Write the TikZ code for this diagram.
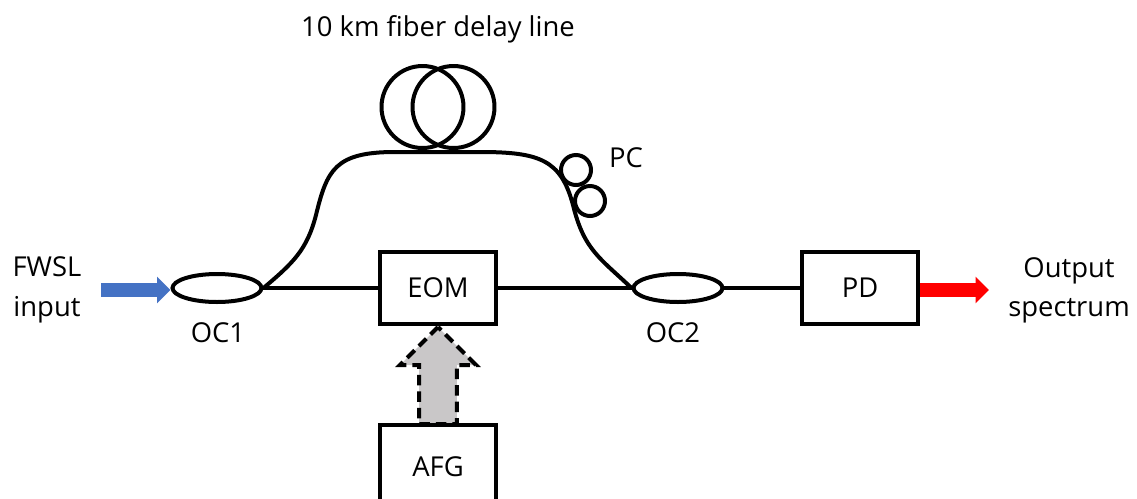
\documentclass[tikz,border=0pt]{standalone}
\usepackage{fontspec}
\setmainfont{Open Sans}
\usetikzlibrary{shapes.arrows,shapes.geometric,arrows.meta}
\definecolor{inblue}{HTML}{4472C4}
\definecolor{gategray}{HTML}{C9C7C8}
\tikzset{
  blockbox/.style={draw,fill=white,line width=0.08cm,minimum width=2.34cm,minimum height=1.44cm,inner sep=0pt,font=\fontsize{15.6}{18}\selectfont},
  coupler/.style={draw,ellipse,line width=0.08cm,minimum width=1.78cm,minimum height=0.56cm,inner sep=0pt},
  loopring/.style={draw,circle,line width=0.08cm,inner sep=0pt},
  fiber/.style={line width=0.08cm},
  lightarrow/.style={line width=0.28cm,-{Triangle[length=0.27cm,width=0.52cm]},shorten >=0pt},
  lbl/.style={font=\fontsize{15.6}{18}\selectfont,inner sep=0pt,align=center}
}
\begin{document}
\begin{tikzpicture}[x=0.02cm,y=-0.02cm]
  \path[use as bounding box,clip] (0,0) rectangle (1137,498);
  \node[lbl] (title) at (438,29) {10 km fiber delay line};
  \node[coupler] (oc1) at (217,288) {};
  \node[coupler] (oc2) at (678,288) {};
  \node[loopring,minimum size=1.64cm] (coil1) at (422.5,107) {};
  \node[loopring,minimum size=1.64cm] (coil2) at (453.5,107) {};
  \node[loopring,minimum size=0.6cm] (pc1) at (576,170) {};
  \node[loopring,minimum size=0.6cm] (pc2) at (590,201) {};
  \node[lbl] (pclabel) at (626,158) {PC};
  \node[lbl] (oc1label) at (218,333) {OC1};
  \node[lbl] (oc2label) at (673,333) {OC2};
  \node[lbl] (fwsl) at (47,290) {FWSL\\[0.16cm]input};
  \node[lbl] (output) at (1069,290.5) {Output\\[0.16cm]spectrum};
  \coordinate (inend) at (101,290);
  \coordinate (outend) at (989,290);
  \node[blockbox] (eom) at (438,288) {EOM};
  \node[blockbox] (pd) at (860,288) {PD};
  \draw[fiber] (oc1.east) -- (eom.west);
  \draw[fiber] (eom.east) -- (oc2.west);
  \draw[fiber] (oc2.east) -- (pd.west);
  \draw[fiber] (oc1.east) .. controls (293,263) and (307,250) .. (316,215)
    .. controls (327,170) and (335,152) .. (395,152) -- (480,152)
    .. controls (540,152) and (561,160) .. (573,205)
    .. controls (584,250) and (600,258) .. (oc2.west);
  \draw[lightarrow,inblue] (inend) -- (oc1.west |- inend);
  \draw[lightarrow,red] (pd.east |- outend) -- (outend);
  \node[draw,dash pattern=on 0.21cm off 0.12cm,line width=0.08cm,fill=gategray,
    single arrow,shape border rotate=90,single arrow head extend=0.38cm,
    inner sep=0.34cm,minimum width=1.44cm,minimum height=1.94cm,
    single arrow tip angle=90] (gate) at (438,385) {};
  \node[blockbox,minimum height=1.7cm] (afg) at (438,467) {AFG};
\end{tikzpicture}
\end{document}
